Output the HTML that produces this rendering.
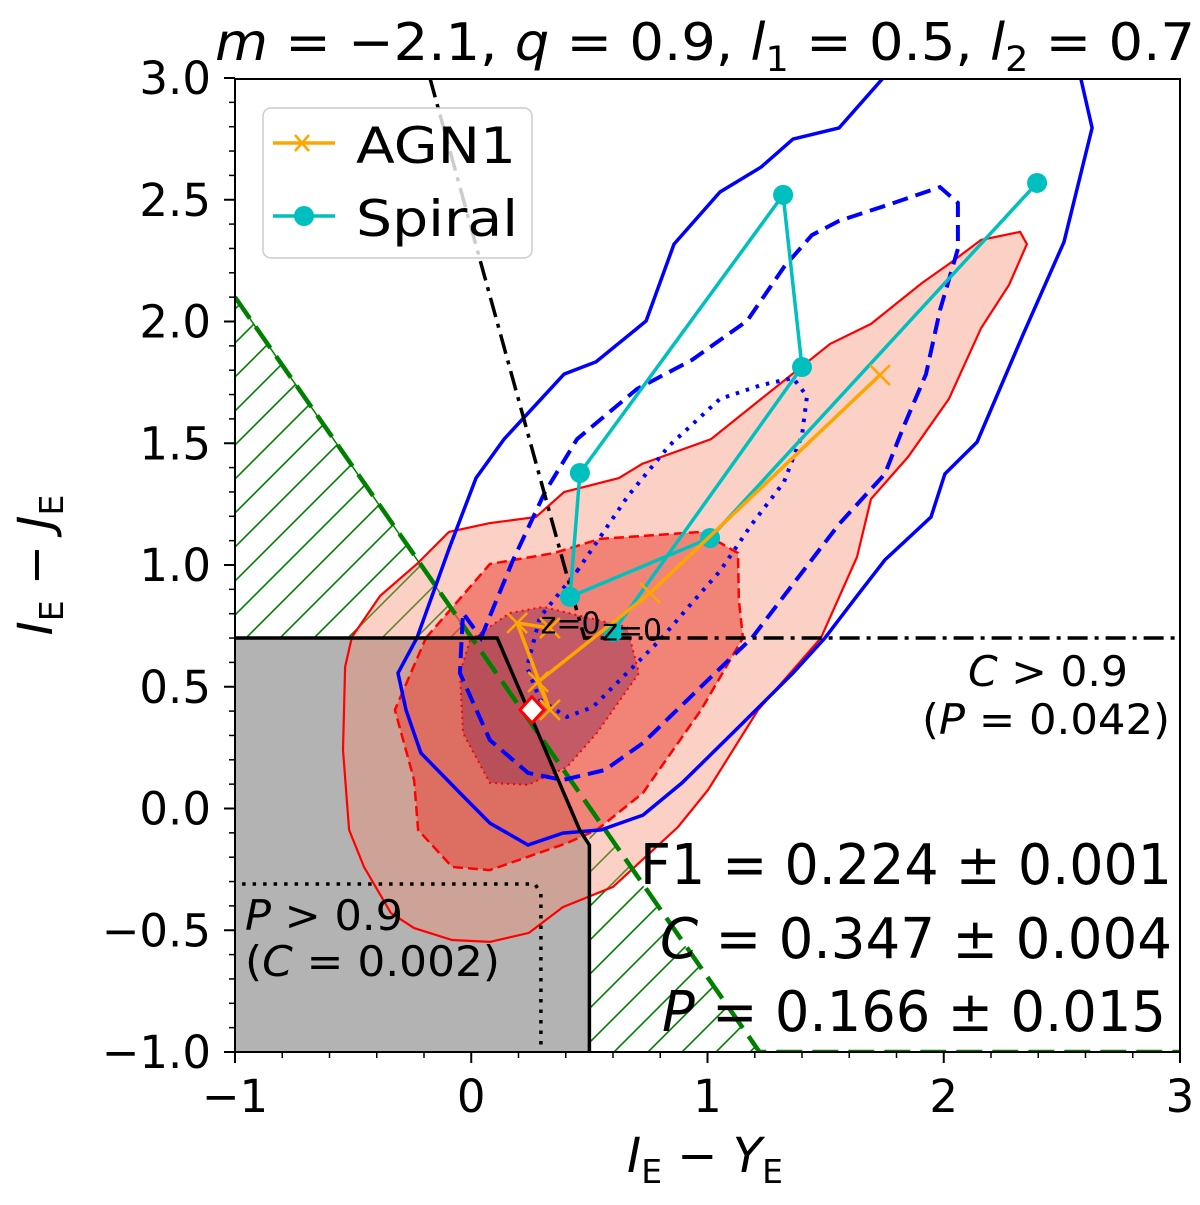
<!DOCTYPE html>
<html><head><meta charset="utf-8"><style>
html,body{margin:0;padding:0;background:#fff;}
svg{display:block;font-family:"DejaVu Sans","Liberation Sans",sans-serif;}
</style></head><body>
<svg id="chart" width="1200" height="1205" viewBox="0 0 1200 1205" xmlns="http://www.w3.org/2000/svg">
<defs>
<clipPath id="plotclip"><rect x="235" y="79" width="945" height="973"/></clipPath>
<pattern id="hatch" patternUnits="userSpaceOnUse" width="34" height="34">
<path d="M-5,39 L39,-5 M-22,22 L22,-22 M12,56 L56,12" stroke="#008000" stroke-width="1.6"/>
</pattern>
</defs>
<g id="plot" clip-path="url(#plotclip)"></g>
<g id="axes"></g>
<text x="215" y="60" font-size="52" textLength="980" lengthAdjust="spacingAndGlyphs"><tspan font-style="italic">m</tspan> = −2.1, <tspan font-style="italic">q</tspan> = 0.9, <tspan font-style="italic">l</tspan><tspan font-size="35" dy="11">1</tspan><tspan dy="-11"> = 0.5, </tspan><tspan font-style="italic">l</tspan><tspan font-size="35" dy="11">2</tspan><tspan dy="-11"> = 0.7</tspan></text>
<text x="705" y="1172" text-anchor="middle" font-size="48"><tspan font-style="italic">I</tspan><tspan font-size="33" dy="11">E</tspan><tspan dy="-11"> − </tspan><tspan font-style="italic">Y</tspan><tspan font-size="33" dy="11">E</tspan></text>
<text transform="translate(52,565) rotate(-90)" text-anchor="middle" font-size="48"><tspan font-style="italic">I</tspan><tspan font-size="33" dy="11">E</tspan><tspan dy="-11"> − </tspan><tspan font-style="italic">J</tspan><tspan font-size="33" dy="11">E</tspan></text>
<g>
<rect x="263" y="108" width="269" height="150" rx="8" fill="#fff" fill-opacity="0.8" stroke="#cccccc" stroke-width="1.5"/>
<line x1="273" y1="143" x2="335" y2="143" stroke="#ffa500" stroke-width="3.5"/>
<path d="M295,135 L309,151 M309,135 L295,151" stroke="#ffa500" stroke-width="2.5"/>
<text x="356" y="163" font-size="50" textLength="160" lengthAdjust="spacingAndGlyphs">AGN1</text>
<line x1="273" y1="216" x2="335" y2="216" stroke="#00bfbf" stroke-width="3.5"/>
<circle cx="304" cy="216" r="10" fill="#00bfbf"/>
<text x="356" y="236" font-size="50" textLength="162" lengthAdjust="spacingAndGlyphs">Spiral</text>
</g>
<text x="968" y="686" font-size="42" textLength="160" lengthAdjust="spacingAndGlyphs"><tspan font-style="italic">C</tspan> &gt; 0.9</text>
<text x="922" y="734" font-size="42" textLength="248" lengthAdjust="spacingAndGlyphs">(<tspan font-style="italic">P</tspan> = 0.042)</text>
<text x="245" y="930" font-size="42" textLength="158" lengthAdjust="spacingAndGlyphs"><tspan font-style="italic">P</tspan> &gt; 0.9</text>
<text x="245" y="976" font-size="42" textLength="255" lengthAdjust="spacingAndGlyphs">(<tspan font-style="italic">C</tspan> = 0.002)</text>
<text x="640" y="884" font-size="56" textLength="532" lengthAdjust="spacingAndGlyphs">F1 = 0.224 ± 0.001</text>
<text x="660" y="958" font-size="56" textLength="512" lengthAdjust="spacingAndGlyphs"><tspan font-style="italic">C</tspan> = 0.347 ± 0.004</text>
<text x="662" y="1031" font-size="56" textLength="504" lengthAdjust="spacingAndGlyphs"><tspan font-style="italic">P</tspan> = 0.166 ± 0.015</text>
</svg>
<script>
const xTicks=[-1,0,1,2,3];
const yTicks=[-1.0,-0.5,0.0,0.5,1.0,1.5,2.0,2.5,3.0];
const outerRed=[[-0.505,0.704],[-0.386,0.873],[-0.230,1.004],[-0.094,1.136],[0.079,1.172],[0.274,1.197],[0.393,1.300],[0.625,1.357],[0.723,1.415],[1.015,1.517],[1.205,1.665],[1.519,1.908],[1.692,1.990],[1.908,2.158],[2.022,2.236],[2.158,2.335],[2.323,2.368],[2.352,2.318],[2.276,2.150],[2.158,1.973],[2.022,1.682],[1.849,1.444],[1.692,1.271],[1.633,1.033],[1.480,0.700],[1.214,0.405],[1.002,0.076],[0.875,-0.076],[0.600,-0.322],[0.388,-0.405],[0.244,-0.511],[0.079,-0.548],[-0.081,-0.540],[-0.242,-0.491],[-0.340,-0.429],[-0.454,-0.240],[-0.517,-0.088],[-0.543,0.240],[-0.534,0.581]];
const midRed=[[-0.192,0.700],[0.079,1.004],[0.350,1.049],[0.545,1.107],[0.973,1.136],[1.129,1.049],[1.133,0.856],[1.150,0.700],[0.973,0.405],[0.727,0.064],[0.532,-0.088],[0.405,-0.142],[0.079,-0.253],[-0.081,-0.240],[-0.225,-0.088],[-0.242,0.117],[-0.323,0.405]];
const innerRed=[[-0.005,0.692],[0.164,0.803],[0.304,0.828],[0.659,0.745],[0.710,0.556],[0.532,0.310],[0.405,0.170],[0.240,0.097],[0.079,0.105],[-0.035,0.310],[-0.048,0.556]];
const blueSolid=[[-0.230,0.700],[-0.094,1.066],[0.020,1.357],[0.139,1.517],[0.393,1.784],[0.528,1.834],[0.740,2.002],[0.858,2.318],[1.053,2.532],[1.227,2.634],[1.362,2.749],[1.557,2.795],[1.789,3.05],[2.568,3.05],[2.628,2.795],[2.509,2.327],[2.335,1.945],[2.141,1.505],[2.005,1.374],[1.946,1.197],[1.751,1.021],[1.633,0.873],[1.497,0.700],[1.362,0.556],[1.133,0.335],[0.892,0.105],[0.727,-0.027],[0.549,-0.088],[0.388,-0.101],[0.240,-0.150],[0.079,-0.060],[-0.048,0.064],[-0.213,0.228],[-0.276,0.405],[-0.310,0.556]];
const blueDashed=[[0.041,0.700],[0.177,1.021],[0.312,1.300],[0.448,1.517],[0.702,1.723],[0.934,1.842],[1.167,2.002],[1.324,2.224],[1.442,2.355],[1.557,2.413],[1.789,2.487],[1.984,2.552],[2.060,2.487],[2.060,2.298],[1.984,2.047],[1.925,1.784],[1.828,1.563],[1.751,1.374],[1.557,1.168],[1.324,0.873],[1.188,0.700],[1.002,0.528],[0.727,0.269],[0.566,0.158],[0.388,0.117],[0.240,0.146],[0.079,0.281],[-0.048,0.556],[-0.035,0.803]];
const blueDotted=[[0.448,0.975],[0.663,1.283],[0.837,1.489],[1.053,1.682],[1.227,1.739],[1.362,1.768],[1.421,1.694],[1.400,1.534],[1.324,1.341],[1.188,1.168],[1.053,0.975],[0.934,0.844],[0.799,0.692],[0.659,0.556],[0.515,0.417],[0.405,0.376],[0.291,0.446],[0.236,0.581],[0.291,0.786]];
const grayRegion=[[-1,0.7],[0.11,0.7],[0.46,-0.09],[0.5,-0.15],[0.5,-1],[-1,-1]];
const hatchUpper=[[-1,2.1],[0.0,0.7],[-1,0.7]];
const hatchLower=[[0.5,0.0],[1.22,-1],[0.5,-1]];
const greenLine=[[-1,2.1],[1.22,-1],[3,-1]];
const dashDotLine=[[-0.175,3.0],[0.43,0.87],[0.48,0.7],[3.0,0.7]];
const blackBoundary=[[-1,0.7],[0.11,0.7],[0.46,-0.09],[0.5,-0.15],[0.5,-1]];
const dottedBoundary=[[-0.97,-0.31],[0.27,-0.31],[0.295,-0.35],[0.295,-1]];
const spiralX=[0.600,1.400,1.320,0.460,0.418,1.011,2.395];
const spiralY=[0.725,1.813,2.520,1.378,0.869,1.111,2.569];
const agnX=[0.333,0.194,0.333,0.283,0.757,1.730];
const agnY=[0.741,0.762,0.405,0.520,0.885,1.780];
const diamondPt=[0.257,0.405];
const zLabels=[[0.37,0.76],[0.63,0.73]];

const X=v=>235+(v+1)*236.25;
const Y=v=>1052-(v+1)*243.5;
const NS="http://www.w3.org/2000/svg";
const plot=document.getElementById('plot');
const axes=document.getElementById('axes');
function mk(tag,parent){const e=document.createElementNS(NS,tag);parent.appendChild(e);return e;}
function pts(arr){return arr.map(p=>X(p[0]).toFixed(1)+','+Y(p[1]).toFixed(1)).join(' ');}

let e;
e=mk('polygon',plot);e.setAttribute('points',pts(hatchUpper));e.setAttribute('fill','url(#hatch)');e.setAttribute('stroke','#008000');e.setAttribute('stroke-width','1.5');


e=mk('polygon',plot);e.setAttribute('points',pts(hatchLower));e.setAttribute('fill','url(#hatch)');


e=mk('polygon',plot);e.setAttribute('points',pts(grayRegion));e.setAttribute('fill','#b3b3b3');


e=mk('polygon',plot);e.setAttribute('points',pts(outerRed));e.setAttribute('fill','rgba(245,140,110,0.4)');e.setAttribute('stroke','#ff0000');e.setAttribute('stroke-width','2.2');


e=mk('polygon',plot);e.setAttribute('points',pts(midRed));e.setAttribute('fill','rgba(235,70,55,0.55)');e.setAttribute('stroke','#ff0000');e.setAttribute('stroke-width','2.5');e.setAttribute('stroke-dasharray','10,5');


e=mk('polygon',plot);e.setAttribute('points',pts(innerRed));e.setAttribute('fill','rgba(140,40,80,0.45)');e.setAttribute('stroke','#ff0000');e.setAttribute('stroke-width','2');e.setAttribute('stroke-dasharray','2,4');


e=mk('polyline',plot);e.setAttribute('points',pts(greenLine));e.setAttribute('fill','none');e.setAttribute('stroke','#008000');e.setAttribute('stroke-width','4.5');e.setAttribute('stroke-dasharray','26,10');


e=mk('polygon',plot);e.setAttribute('points',pts(blueSolid));e.setAttribute('fill','none');e.setAttribute('stroke','#0000ff');e.setAttribute('stroke-width','3.5');


e=mk('polygon',plot);e.setAttribute('points',pts(blueDashed));e.setAttribute('fill','none');e.setAttribute('stroke','#0000ff');e.setAttribute('stroke-width','4');e.setAttribute('stroke-dasharray','16,8');


e=mk('polygon',plot);e.setAttribute('points',pts(blueDotted));e.setAttribute('fill','none');e.setAttribute('stroke','#0000ff');e.setAttribute('stroke-width','4');e.setAttribute('stroke-dasharray','3.5,7');


e=mk('polyline',plot);e.setAttribute('points',pts(blackBoundary));e.setAttribute('fill','none');e.setAttribute('stroke','#000');e.setAttribute('stroke-width','3.5');


e=mk('polyline',plot);e.setAttribute('points',pts(dashDotLine));e.setAttribute('fill','none');e.setAttribute('stroke','#000');e.setAttribute('stroke-width','3.5');e.setAttribute('stroke-dasharray','20,7,4,7');


e=mk('polyline',plot);e.setAttribute('points',pts(dottedBoundary));e.setAttribute('fill','none');e.setAttribute('stroke','#000');e.setAttribute('stroke-width','3.5');e.setAttribute('stroke-dasharray','3.5,7');



e=mk('polyline',plot);e.setAttribute('points',spiralX.map((v,i)=>X(v)+','+Y(spiralY[i])).join(' '));e.setAttribute('fill','none');e.setAttribute('stroke','#00bfbf');e.setAttribute('stroke-width','3.5');


spiralX.forEach((v,i)=>{const c=mk('circle',plot);c.setAttribute('cx',X(v));c.setAttribute('cy',Y(spiralY[i]));c.setAttribute('r','10');c.setAttribute('fill','#00bfbf');


});
e=mk('polyline',plot);e.setAttribute('points',agnX.map((v,i)=>X(v)+','+Y(agnY[i])).join(' '));e.setAttribute('fill','none');e.setAttribute('stroke','#ffa500');e.setAttribute('stroke-width','3.5');


agnX.forEach((v,i)=>{const cx=X(v),cy=Y(agnY[i]);const m=mk('path',plot);m.setAttribute('d',`M${cx-10},${cy-10}L${cx+10},${cy+10}M${cx+10},${cy-10}L${cx-10},${cy+10}`);m.setAttribute('stroke','#ffa500');m.setAttribute('stroke-width','2.5');


});
{const cx=X(diamondPt[0]),cy=Y(diamondPt[1]);const d=mk('polygon',plot);d.setAttribute('points',`${cx},${cy-13} ${cx+12},${cy} ${cx},${cy+13} ${cx-12},${cy}`);d.setAttribute('fill','#fff');d.setAttribute('stroke','#ff0000');d.setAttribute('stroke-width','3');

}
zLabels.forEach(p=>{const t=mk('text',plot);t.setAttribute('x',X(p[0])-18);t.setAttribute('y',Y(p[1])+10);t.setAttribute('font-size','30');t.textContent='z=0';

});

e=mk('rect',axes);e.setAttribute('x','235');e.setAttribute('y','79');e.setAttribute('width','945');e.setAttribute('height','973');e.setAttribute('fill','none');e.setAttribute('stroke','#000');e.setAttribute('stroke-width','2');


xTicks.forEach(v=>{const l=mk('line',axes);l.setAttribute('x1',X(v));l.setAttribute('x2',X(v));l.setAttribute('y1',1052);l.setAttribute('y2',1063);l.setAttribute('stroke','#000');l.setAttribute('stroke-width','2');


const t=mk('text',axes);t.setAttribute('x',X(v));t.setAttribute('y',1112);t.setAttribute('text-anchor','middle');t.setAttribute('font-size','45');t.textContent=(v<0?'−':'')+Math.abs(v);

});
for(let v=-1;v<=3.001;v+=0.2){const l=mk('line',axes);l.setAttribute('x1',X(v));l.setAttribute('x2',X(v));l.setAttribute('y1',1052);l.setAttribute('y2',1058);l.setAttribute('stroke','#000');l.setAttribute('stroke-width','1.5');

}
yTicks.forEach(v=>{const l=mk('line',axes);l.setAttribute('x1',224);l.setAttribute('x2',235);l.setAttribute('y1',Y(v));l.setAttribute('y2',Y(v));l.setAttribute('stroke','#000');l.setAttribute('stroke-width','2');


const t=mk('text',axes);t.setAttribute('x',211);t.setAttribute('y',Y(v)+16);t.setAttribute('text-anchor','end');t.setAttribute('font-size','45');t.textContent=(v<0?'−':'')+Math.abs(v).toFixed(1);

});
for(let v=-1;v<=3.001;v+=0.1){const l=mk('line',axes);l.setAttribute('x1',229);l.setAttribute('x2',235);l.setAttribute('y1',Y(v));l.setAttribute('y2',Y(v));l.setAttribute('stroke','#000');l.setAttribute('stroke-width','1.5');

}
</script>
</body></html>
